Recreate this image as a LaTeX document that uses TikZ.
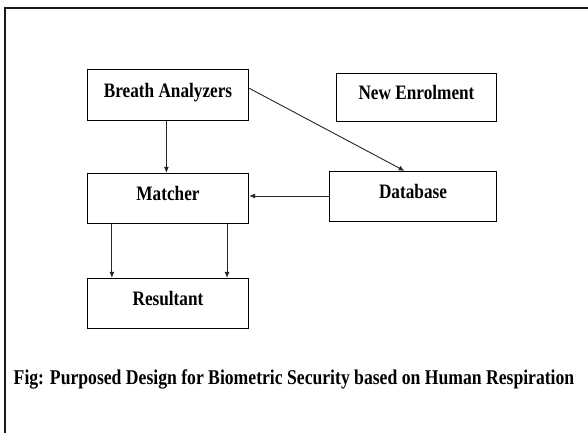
\documentclass[tikz,border=0pt]{standalone}
\usepackage{fontspec}
\setmainfont{Liberation Serif}
\newfontfamily\condbf[FakeStretch=0.84]{Liberation Serif Bold}
\usetikzlibrary{arrows.meta,calc}
\begin{document}
\begin{tikzpicture}[x=1pt,y=-1pt,
  blk/.style={draw=black,line width=1.2pt,rectangle,inner sep=0pt,
    minimum height=#1,text height=14pt,text depth=10pt,
    font=\condbf\fontsize{20.5}{22}\selectfont},
  blk/.default=50pt,
  conn/.style={draw=black!85,line width=0.9pt,-{Latex[length=6pt,width=5pt]}}]
\useasboundingbox (0,0) rectangle (588,432);
% open frame around the figure
\draw[line width=2.4pt,black!90] (5,434) -- (5,8) -- (590,8);
% blocks
\node[blk=51pt,minimum width=161pt] (ba) at (168,95) {Breath Analyzers};
\node[blk=48pt,minimum width=160pt] (ne) at (416.5,97.5) {New Enrolment};
\node[blk=50pt,minimum width=161pt] (ma) at (168,198.5) {Matcher};
\node[blk=50pt,minimum width=167pt] (db) at (413,196.5) {Database};
\node[blk=50pt,minimum width=161pt] (re) at (168,303.5) {Resultant};
% connector end points on the block borders
\coordinate (baS) at ($(ba.south west)!0.49!(ba.south east)$);
\coordinate (baE) at ($(ba.north east)!0.37!(ba.south east)$);
\coordinate (dbN) at ($(db.north west)!0.45!(db.north east)$);
\coordinate (dbW) at ($(db.north west)!0.49!(db.south west)$);
\coordinate (maL) at ($(ma.south west)!0.154!(ma.south east)$);
\coordinate (maR) at ($(ma.south west)!0.864!(ma.south east)$);
% connectors
\draw[conn] (baS) -- (baS |- ma.north);
\draw[conn] (baE) -- (dbN);
\draw[conn] (dbW) -- (dbW -| ma.east);
\draw[conn] (maL) -- (maL |- re.north);
\draw[conn] (maR) -- (maR |- re.north);
% caption
\node[anchor=base,font=\condbf\fontsize{21}{23}\selectfont] (cap) at (294,384)
  {Fig: Purposed Design for Biometric Security based on Human Respiration};
\end{tikzpicture}
\end{document}
